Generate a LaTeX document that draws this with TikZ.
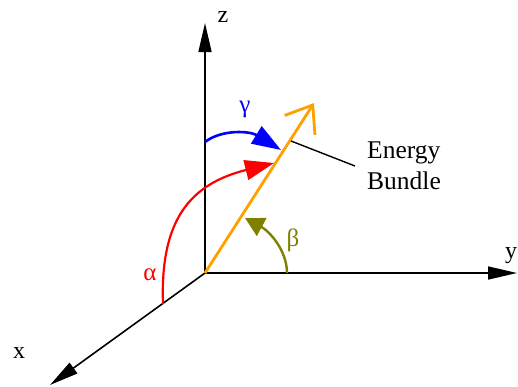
\documentclass[tikz,border=0pt]{standalone}
\usepackage{fontspec}
\setmainfont{Liberation Serif}
\usetikzlibrary{arrows.meta}
\definecolor{bundleorange}{RGB}{255,160,0}
\definecolor{betaolive}{RGB}{128,128,0}

\begin{document}
\begin{tikzpicture}[x=1pt, y=-1pt]
\tikzstyle{axislabel} = [font=\fontsize{24}{31}\selectfont, inner sep=0pt]
\tikzstyle{axisline} = [line width=1.6pt,
    -{Triangle[length=29pt,width=13pt]}]
\tikzstyle{greek} = [font=\fontsize{25}{31}\selectfont, inner sep=0pt]
\tikzstyle{arcarrow} = [line width=2.6pt,
    -{Triangle[length=29pt,width=20pt]}]
\tikzstyle{bundle} = [line width=2.8pt, draw=bundleorange,
    -{Straight Barb[length=24pt,width=36pt]}]

\useasboundingbox (0,0) rectangle (518,386);

% --- axes ---
\coordinate (O) at (205,273);
\coordinate (zend) at (205,23);
\coordinate (yend) at (517,273);
\coordinate (xend) at (50,385);

\draw [axisline] (O) -- (zend);
\draw [axisline] (O) -- (yend);
\draw [axisline] (O) -- (xend);

\node (zlab) [axislabel] at (223,17) {z};
\node (ylab) [axislabel] at (511,256) {y};
\node (xlab) [axislabel] at (19,353) {x};

% --- energy bundle ---
\coordinate (tip) at (314,103);
\coordinate (touch) at (291,141);
\draw [bundle] (O) -- (tip);

\node (energy) [axislabel, font=\fontsize{25.5}{31}\selectfont,
    align=left, anchor=west, inner xsep=12pt]
    at (355,166) {Energy\\Bundle};
\draw [line width=1.4pt] (touch) -- (energy.west);

% --- angles ---
\coordinate (gstart) at (205,142);
\coordinate (gend) at (281,150);
\draw [arcarrow, blue] (gstart) .. controls (222,129) and (250,131) .. (gend);
\node (gamma) [greek, blue] at (245,109) {γ};

\coordinate (astart) at (163,304);
\coordinate (aend) at (274,163);
\draw [arcarrow, red, line width=2.2pt]
    (astart) .. controls (160,220) and (190,184) .. (aend);
\node (alpha) [greek, red] at (150,275) {α};

\coordinate (bstart) at (287,273);
\coordinate (bend) at (245,218);
\draw [line width=2.4pt, betaolive, -{Triangle[length=19pt,width=20pt]}]
    (bstart) .. controls (287,250) and (269,231) .. (bend);
\node (beta) [greek, betaolive] at (293,240) {β};
\end{tikzpicture}
\end{document}
